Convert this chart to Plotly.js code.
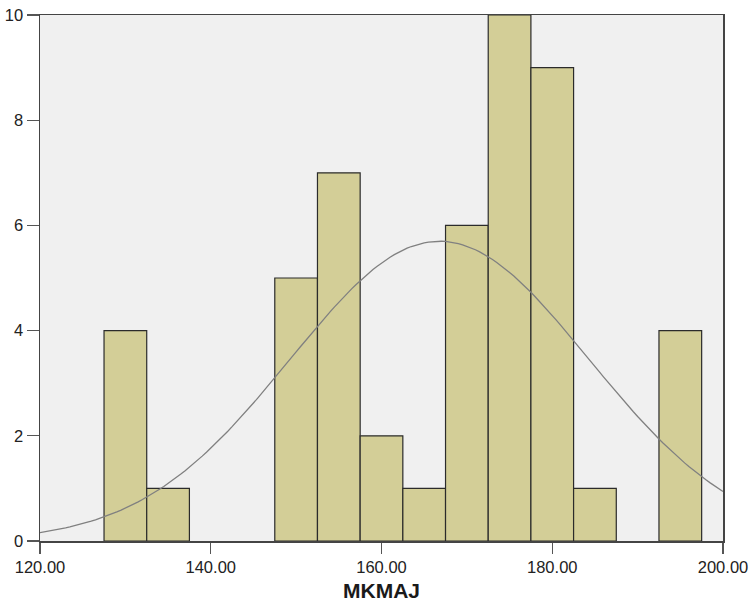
<!DOCTYPE html>
<html>
<head>
<meta charset="utf-8">
<script src="https://cdn.plot.ly/plotly-3.0.1.min.js"></script>
<style>html,body{margin:0;padding:0;background:#fff;}#chart{width:750px;height:603px;}</style>
</head>
<body>
<div id="chart"></div>
<script>
// Histogram bin centres (width 5) and counts
var binCenters = [130, 135, 150, 155, 160, 165, 170, 175, 180, 185, 195];
var binCounts  = [4, 1, 5, 7, 2, 1, 6, 10, 9, 1, 4];
var binWidth = 5;
// Normal curve parameters (fitted curve shown in the chart)
var curveMean = 166.8;
var curveSD = 17.5;
var curveN = 50;
var xTickVals = [120, 140, 160, 180, 200];
var xTickText = ["120.00", "140.00", "160.00", "180.00", "200.00"];
var yTickVals = [0, 2, 4, 6, 8, 10];

var cx = [], cy = [];
for (var x = 120; x <= 200.001; x += 0.5) {
  cx.push(x);
  var z = (x - curveMean) / curveSD;
  cy.push(curveN * binWidth / (curveSD * Math.sqrt(2 * Math.PI)) * Math.exp(-0.5 * z * z));
}

var traces = [
  {
    type: 'bar', x: binCenters, y: binCounts, width: binWidth,
    marker: {color: '#D3CE97', line: {color: '#2b2b2b', width: 1.2}},
    hoverinfo: 'x+y'
  },
  {
    type: 'scatter', mode: 'lines', x: cx, y: cy,
    line: {color: '#808080', width: 1.3}, hoverinfo: 'skip'
  }
];

var layout = {
  width: 750, height: 603,
  margin: {l: 40, r: 27, t: 15, b: 62},
  paper_bgcolor: '#ffffff',
  plot_bgcolor: '#F0F0F0',
  showlegend: false,
  bargap: 0,
  font: {family: 'Liberation Sans, Arial, sans-serif', color: '#222', size: 16},
  xaxis: {
    range: [120, 200], tickvals: xTickVals, ticktext: xTickText,
    ticks: 'outside', ticklen: 11, tickcolor: '#555', tickwidth: 1.2,
    showline: true, linecolor: '#444', linewidth: 1.5, mirror: true,
    showgrid: false, zeroline: false,
    tickfont: {size: 16.5, color: '#222'},
    title: {text: '<b>MKMAJ</b>', font: {size: 21, color: '#1a1a1a'}, standoff: 8}
  },
  yaxis: {
    range: [0, 10], tickvals: yTickVals,
    ticks: 'outside', ticklen: 12, tickcolor: '#555', tickwidth: 1.2,
    showline: true, linecolor: '#444', linewidth: 1.5, mirror: true,
    showgrid: false, zeroline: false,
    tickfont: {size: 16.5, color: '#222'}
  }
};

Plotly.newPlot('chart', traces, layout, {displayModeBar: false, staticPlot: true});
</script>
</body>
</html>
